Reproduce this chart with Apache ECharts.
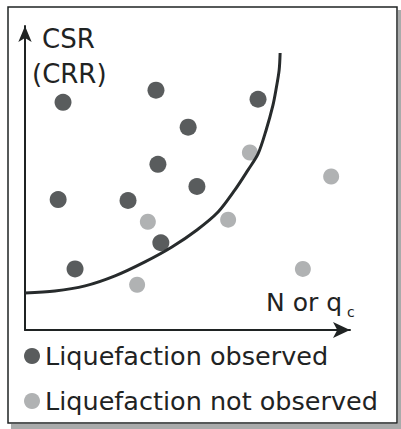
<!DOCTYPE html>
<html>
<head>
<meta charset="utf-8">
<script src="https://cdn.jsdelivr.net/npm/echarts@6/dist/echarts.min.js"></script>
<style>
  html, body { margin: 0; padding: 0; background: #fff; }
  #chart { width: 401px; height: 429px; }
</style>
</head>
<body>
<div id="chart"></div>
<script>
// points (x: N or qc, y: CSR), both on a 0-10 scale
const observedPoints = [
  [1.17, 7.49], [4.03, 7.89], [7.17, 7.59], [5.02, 6.67], [4.09, 5.45],
  [5.29, 4.72], [1.02, 4.29], [3.17, 4.26], [4.18, 2.87], [1.54, 2.01]
]
const notObservedPoints = [
  [6.92, 5.84], [9.42, 5.05], [3.78, 3.56], [6.25, 3.63], [8.55, 2.01], [3.45, 1.49]
]
// boundary curve (CRR)
const boundaryCurve = [
  [0, 1.22], [0.92, 1.28], [1.85, 1.45], [2.77, 1.78], [3.69, 2.24], [4.52, 2.73],
  [5.29, 3.29], [5.94, 3.88], [6.46, 4.61], [6.86, 5.26], [7.17, 5.79], [7.42, 6.58],
  [7.63, 7.4], [7.72, 7.89], [7.82, 8.55], [7.85, 9.11]
]
const seriesNames = ['Liquefaction observed', 'Liquefaction not observed']

const font = 'DejaVu Sans'
const ink = '#1f2323'

const chart = echarts.init(document.getElementById('chart'), null, { renderer: 'svg' })

chart.setOption({
  backgroundColor: '#fff',
  animation: false,
  grid: { left: 25, top: 26, width: 325, height: 304 },
  xAxis: {
    type: 'value',
    min: 0,
    max: 10,
    axisLine: {
      lineStyle: { color: ink, width: 2 },
      symbol: ['none', 'arrow'],
      symbolSize: [12, 17]
    },
    axisTick: { show: false },
    axisLabel: { show: false },
    splitLine: { show: false }
  },
  yAxis: {
    type: 'value',
    min: 0,
    max: 10,
    axisLine: {
      lineStyle: { color: ink, width: 2 },
      symbol: ['none', 'arrow'],
      symbolSize: [10, 16]
    },
    axisTick: { show: false },
    axisLabel: { show: false },
    splitLine: { show: false }
  },
  legend: {
    data: seriesNames,
    orient: 'vertical',
    left: 24,
    top: 341,
    padding: 0,
    itemWidth: 16,
    itemHeight: 16,
    itemGap: 15,
    icon: 'circle',
    selectedMode: false,
    textStyle: { fontFamily: font, fontSize: 25.5, lineHeight: 30, color: ink }
  },
  graphic: [
    // drop shadow of the frame
    { type: 'rect', shape: { x: 11, y: 424, width: 390, height: 5 }, style: { fill: '#a9abab' }, silent: true },
    { type: 'rect', shape: { x: 398, y: 10, width: 3, height: 419 }, style: { fill: '#a9abab' }, silent: true },
    // frame
    { type: 'rect', shape: { x: 8, y: 7, width: 389, height: 416 }, style: { fill: 'none', stroke: ink, lineWidth: 1.5 }, silent: true },
    { type: 'text', left: 42, top: 26, style: { text: 'CSR', font: '26px "DejaVu Sans"', fill: ink } },
    { type: 'text', left: 32, top: 61, style: { text: '(CRR)', font: '26px "DejaVu Sans"', fill: ink } },
    { type: 'text', left: 266, top: 290, style: { text: 'N or q', font: '25px "DejaVu Sans"', fill: ink } },
    { type: 'text', left: 347, top: 305, style: { text: 'c', font: '14px "DejaVu Sans"', fill: ink } }
  ],
  series: [
    {
      name: seriesNames[0],
      type: 'scatter',
      symbolSize: 17,
      itemStyle: { color: '#2f3334' },
      data: observedPoints,
      z: 3
    },
    {
      name: seriesNames[1],
      type: 'scatter',
      symbolSize: 16,
      itemStyle: { color: '#9c9fa0' },
      data: notObservedPoints,
      z: 3
    },
    {
      name: 'boundary',
      type: 'line',
      smooth: 0.3,
      symbol: 'none',
      lineStyle: { color: '#272b2c', width: 3 },
      data: boundaryCurve,
      z: 4
    }
  ]
})
</script>
</body>
</html>
